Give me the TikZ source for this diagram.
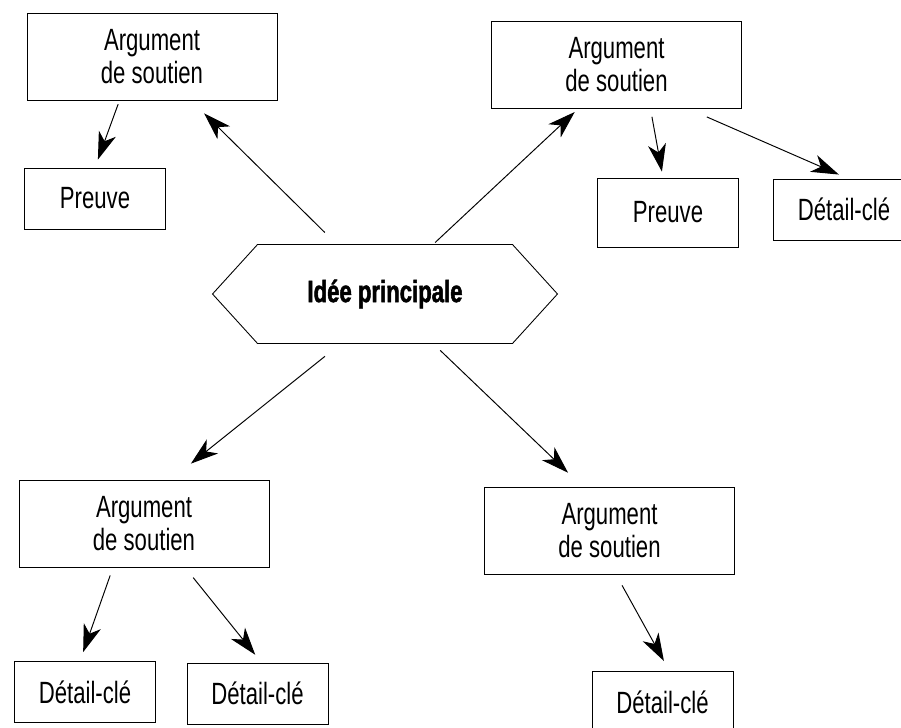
\documentclass[tikz,border=0pt]{standalone}
\usepackage{fontspec}
\setmainfont{Liberation Sans}[FakeStretch=0.72]
\usetikzlibrary{positioning}
\usetikzlibrary{arrows.meta}

\tikzset{
  box/.style={draw,line width=0.5pt,align=center,inner sep=0pt},
  argument/.style={box,minimum width=5cm,minimum height=1.74cm},
  leaf/.style={box,minimum width=2.82cm,minimum height=1.22cm},
  every node/.style={font=\fontsize{17.5}{18.8}\selectfont}
}

\begin{document}
\begin{tikzpicture}[on grid,>={Stealth[length=5.5mm,width=3.6mm,inset=1.6mm]},line width=0.55pt]
   \useasboundingbox (0,0) rectangle (18.02,-14.56);
   \node[minimum width=6.88cm,minimum height=1.96cm,inner sep=0pt] (idee) at (7.70,-5.88)
      {\bfseries\addfontfeature{FakeBold=1.6}Idée principale};
   \draw[line width=0.5pt] (idee.west) -- ([xshift=0.9cm]idee.north west) -- ([xshift=-0.9cm]idee.north east)
      -- (idee.east) -- ([xshift=-0.9cm]idee.south east) -- ([xshift=0.9cm]idee.south west) -- cycle;
   \node[argument] (a1) [above left=4.75cm and 4.66cm of idee] {Argument\\de soutien};
   \node[argument] (a2) [above right=4.58cm and 4.63cm of idee] {Argument\\de soutien};
   \node[argument] (a3) [below left=4.59cm and 4.82cm of idee] {Argument\\de soutien};
   \node[argument] (a4) [below right=4.73cm and 4.49cm of idee] {Argument\\de soutien};
   \node[leaf] (p1) [below left=2.84cm and 1.14cm of a1] {Preuve};
   \node[leaf,minimum height=1.38cm] (p2) [below right=2.95cm and 1.03cm of a2] {Preuve};
   \node[leaf] (k2) [below right=2.89cm and 4.55cm of a2] {Détail-clé};
   \node[leaf] (d1) [below left=3.37cm and 1.18cm of a3] {Détail-clé};
   \node[leaf] (d2) [below right=3.40cm and 2.27cm of a3] {Détail-clé};
   \node[leaf] (d4) [below right=3.43cm and 1.06cm of a4] {Détail-clé};
   % idee principale vers les arguments
   \draw[->,shorten <=0.34cm,shorten >=0.37cm] ([xshift=-0.96cm]idee.north) -- ([xshift=0.78cm]a1.south);
   \draw[->,shorten <=0.06cm,shorten >=0.09cm] ([xshift=0.96cm]idee.north) -- ([xshift=-0.77cm]a2.south);
   \draw[->,shorten <=0.41cm,shorten >=0.51cm] ([xshift=-0.88cm]idee.south) -- ([xshift=0.54cm]a3.north);
   \draw[->,shorten <=0.20cm,shorten >=0.40cm] ([xshift=0.96cm]idee.south) -- ([xshift=-0.54cm]a4.north);
   % arguments vers preuves et details
   \draw[->,shorten <=0.08cm,shorten >=0.17cm] ([xshift=-0.65cm]a1.south) -- (p1.north);
   \draw[->,shorten <=0.16cm,shorten >=0.12cm] ([xshift=0.68cm]a2.south) -- ([xshift=-0.10cm]p2.north);
   \draw[->,shorten <=0.40cm,shorten >=0.20cm] ([xshift=1.44cm]a2.south) -- ([xshift=0.08cm]k2.north);
   \draw[->,shorten <=0.17cm,shorten >=0.19cm] ([xshift=-0.62cm]a3.south) -- ([xshift=-0.10cm]d1.north);
   \draw[->,shorten <=0.26cm,shorten >=0.20cm] ([xshift=0.82cm]a3.south) -- ([xshift=0.08cm]d2.north);
   \draw[->,shorten <=0.25cm,shorten >=0.23cm] ([xshift=0.13cm]a4.south) -- ([xshift=0.14cm]d4.north);
\end{tikzpicture}
\end{document}
